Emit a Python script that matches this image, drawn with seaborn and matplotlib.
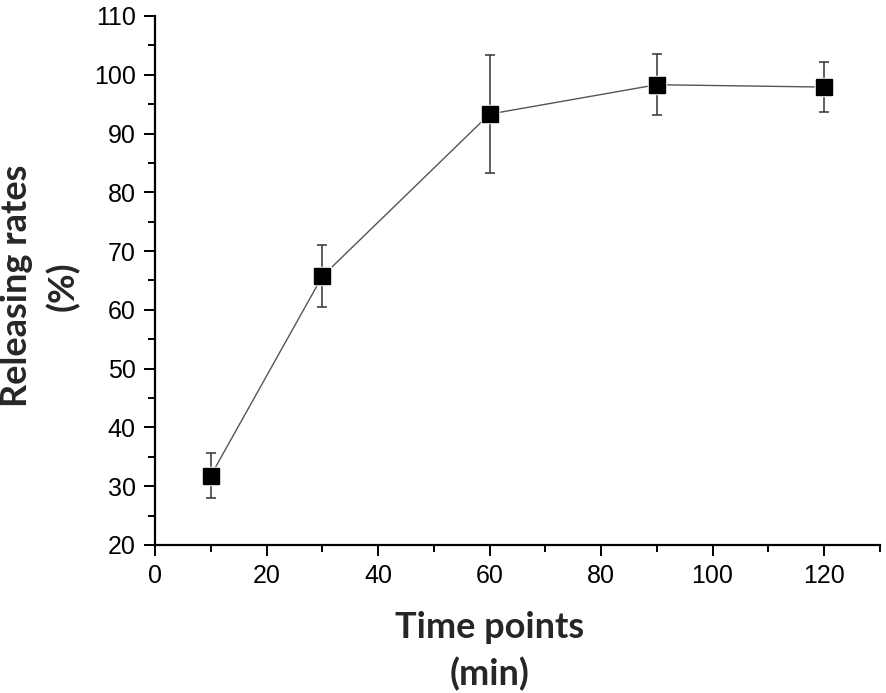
import numpy as np
import pandas as pd
import matplotlib
matplotlib.use("Agg")
import matplotlib.pyplot as plt
import seaborn as sns
from matplotlib.ticker import MultipleLocator

# values
time_min = [10, 30, 60, 90, 120]
release_pct = [31.8, 65.7, 93.3, 98.3, 97.9]
release_err = [3.8, 5.3, 10.1, 5.2, 4.3]

df = pd.DataFrame({"time": time_min, "rate": release_pct, "err": release_err})

sns.set_style("ticks")
plt.rcParams["font.family"] = ["Liberation Sans", "DejaVu Sans"]

fig = plt.figure(figsize=(8.86, 6.93), dpi=100)
ax = fig.add_axes([0.175, 0.2136, 0.818, 0.7634])

ax.errorbar(df["time"], df["rate"], yerr=df["err"], fmt="none",
            ecolor="#333333", elinewidth=1.1, capsize=3.8, capthick=1.1, zorder=2)
sns.lineplot(data=df, x="time", y="rate", ax=ax, color="#555555", linewidth=1.0,
             marker="s", markersize=12, markerfacecolor="black",
             markeredgecolor="white", markeredgewidth=2.5, zorder=3)
# redraw markers without the white halo edge
ax.plot(df["time"], df["rate"], ls="none", marker="s", markersize=11,
        color="black", zorder=4)

ax.set_xlim(0, 130)
ax.set_ylim(20, 110)
ax.xaxis.set_major_locator(MultipleLocator(20))
ax.xaxis.set_minor_locator(MultipleLocator(10))
ax.yaxis.set_major_locator(MultipleLocator(10))
ax.yaxis.set_minor_locator(MultipleLocator(5))

for side in ["top", "right"]:
    ax.spines[side].set_visible(False)
for side in ["left", "bottom"]:
    ax.spines[side].set_linewidth(1.6)
    ax.spines[side].set_color("black")

ax.tick_params(which="major", direction="out", length=8, width=1.4,
               labelsize=18, colors="black", pad=6)
ax.tick_params(which="minor", direction="out", length=5, width=1.4, colors="black")

lbl_font = {"family": ["Lato", "DejaVu Sans"], "weight": "bold", "size": 26}
ax.set_xlabel("Time points\n(min)", fontdict=lbl_font, labelpad=16, linespacing=1.45)
ax.set_ylabel("Releasing rates\n(%)", fontdict=lbl_font, labelpad=10, linespacing=1.45)
ax.xaxis.label.set_x(0.462)
ax.yaxis.label.set_y(0.49)

fig.savefig("out.png", dpi=100)
